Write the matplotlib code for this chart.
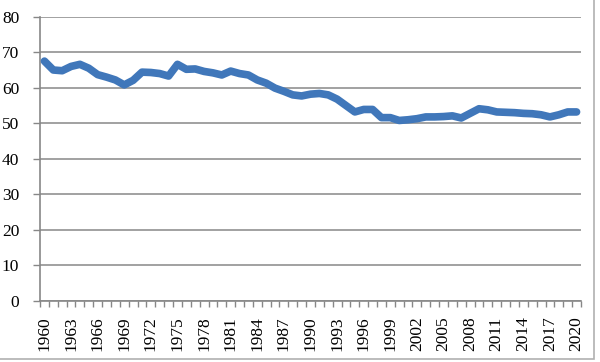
import numpy as np
import matplotlib
matplotlib.use("Agg")
import matplotlib.pyplot as plt
from matplotlib.patches import Rectangle

# yearly values
years = list(range(1960, 2021))
values = [
    67.5, 65.0, 64.8, 66.0, 66.6, 65.5, 63.7, 63.0, 62.2, 60.8,
    62.1, 64.4, 64.3, 64.0, 63.3, 66.6, 65.2, 65.3, 64.6, 64.2,
    63.6, 64.7, 64.0, 63.6, 62.2, 61.3, 59.9, 59.0, 58.0, 57.7,
    58.2, 58.4, 58.0, 56.8, 55.0, 53.2, 53.9, 53.9, 51.6, 51.6,
    50.8, 51.0, 51.3, 51.8, 51.8, 51.9, 52.1, 51.5, 52.8, 54.1,
    53.8, 53.2, 53.1, 53.0, 52.8, 52.7, 52.4, 51.8, 52.4, 53.2,
    53.2,
]
label_years = years[::3]
y_ticks = list(range(0, 81, 10))

plt.rcParams["font.family"] = ["Liberation Serif", "DejaVu Serif"]

fig = plt.figure(figsize=(6.0, 3.62), dpi=100)
ax = fig.add_axes([40 / 600, 1 - 301 / 362, 541 / 600, (301 - 16.7) / 362])

ax.plot(years, values, color="#4077ba", linewidth=5.5,
        solid_capstyle="round", solid_joinstyle="round", zorder=3)

ax.set_xlim(years[0] - 0.5, years[-1] + 0.5)
ax.set_ylim(0, 80)

# y axis
ax.set_yticks(y_ticks)
ax.yaxis.grid(True, color="#878787", linewidth=1.1)
ax.tick_params(axis="y", length=5, width=1, color="#878787",
               labelsize=12.5, pad=10)

# x axis: labels at category centres, ticks between categories
ax.set_xticks(label_years)
ax.set_xticklabels([str(y) for y in label_years], rotation=90)
ax.set_xticks(np.arange(years[0] - 0.5, years[-1] + 1.0, 1.0), minor=True)
ax.tick_params(axis="x", which="major", length=0, labelsize=12.5, pad=11)
ax.tick_params(axis="x", which="minor", length=4, width=1, color="#878787")

for side in ["top", "right"]:
    ax.spines[side].set_visible(False)
for side in ["left", "bottom"]:
    ax.spines[side].set_color("#878787")
    ax.spines[side].set_linewidth(1.2)
ax.set_axisbelow(True)

# chart frame
fig.patches.append(Rectangle((-0.01, 1 - 359 / 362), 594 / 600 + 0.01, 359 / 362 + 0.01,
                             transform=fig.transFigure, fill=False,
                             edgecolor="#b0b0b0", linewidth=1.2))

fig.savefig("out.png", dpi=100)
